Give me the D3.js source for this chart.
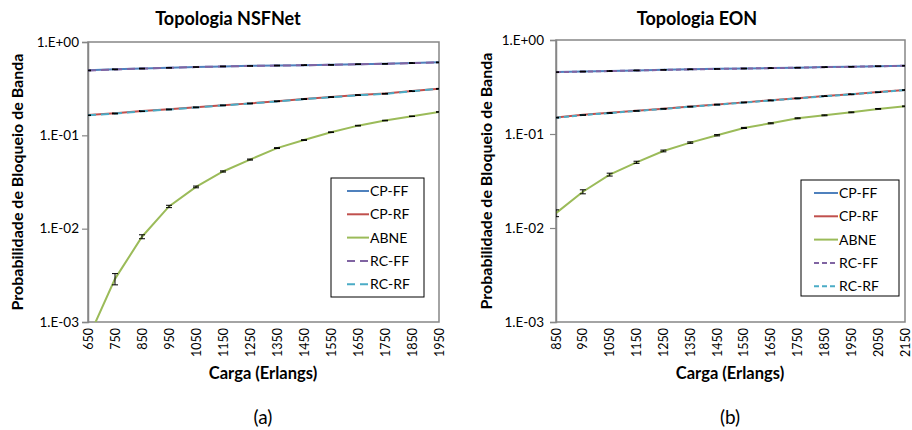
<!DOCTYPE html>
<html>
<head>
<meta charset="utf-8">
<script src="https://cdn.jsdelivr.net/npm/d3@7"></script>
<style>
  body { margin: 0; background: #fff; }
  text { font-family: Lato, "Open Sans", sans-serif; fill: #000; }
</style>
</head>
<body>
<div id="chart"></div>
<script>
// data
const seriesNames = ["CP-FF", "CP-RF", "ABNE", "RC-FF", "RC-RF"]
const seriesColors = ["#4F81BD", "#C0504D", "#9BBB59", "#8064A2", "#4BACC6"]
const yTickValues = [1e-3, 1e-2, 1e-1, 1]
const yTickLabels = ["1.E-03", "1.E-02", "1.E-01", "1.E+00"]

// (a) NSFNet
const loadsA = [650, 750, 850, 950, 1050, 1150, 1250, 1350, 1450, 1550, 1650, 1750, 1850, 1950]
const cpffA = [0.497, 0.51, 0.52, 0.53, 0.54, 0.548, 0.555, 0.56, 0.565, 0.57, 0.578, 0.585, 0.595, 0.605]
const cprfA = [0.165, 0.172, 0.182, 0.19, 0.2, 0.21, 0.22, 0.232, 0.245, 0.257, 0.27, 0.28, 0.298, 0.316]
const abneA = [0.00066, 0.0029, 0.0082, 0.0173, 0.028, 0.041, 0.055, 0.073, 0.089, 0.108, 0.127, 0.144, 0.16, 0.178]
const rcffA = [0.495, 0.508, 0.519, 0.529, 0.539, 0.547, 0.554, 0.559, 0.564, 0.569, 0.577, 0.584, 0.594, 0.603]
const rcrfA = [0.164, 0.171, 0.181, 0.189, 0.199, 0.209, 0.219, 0.231, 0.244, 0.256, 0.269, 0.279, 0.297, 0.315]
const abneErrA = [0.0001, 0.0004, 0.0004, 0.0005, 0.0006, 0.0006, 0.0007, 0.0008, 0.0008, 0.0009, 0.001, 0.001, 0.001, 0.001]

// (b) EON
const loadsB = [850, 950, 1050, 1150, 1250, 1350, 1450, 1550, 1650, 1750, 1850, 1950, 2050, 2150]
const cpffB = [0.457, 0.462, 0.468, 0.475, 0.482, 0.488, 0.493, 0.498, 0.503, 0.508, 0.515, 0.52, 0.527, 0.533]
const cprfB = [0.15, 0.16, 0.168, 0.177, 0.186, 0.196, 0.206, 0.217, 0.228, 0.24, 0.253, 0.265, 0.279, 0.294]
const abneB = [0.0144, 0.0243, 0.037, 0.05, 0.066, 0.081, 0.097, 0.116, 0.13, 0.147, 0.158, 0.17, 0.185, 0.197]
const rcffB = [0.455, 0.461, 0.467, 0.474, 0.481, 0.487, 0.492, 0.497, 0.502, 0.507, 0.514, 0.519, 0.526, 0.532]
const rcrfB = [0.149, 0.159, 0.167, 0.176, 0.185, 0.195, 0.205, 0.216, 0.227, 0.239, 0.252, 0.264, 0.278, 0.293]
const abneErrB = [0.0012, 0.0012, 0.0013, 0.0013, 0.0014, 0.0014, 0.0015, 0.0015, 0.0016, 0.0016, 0.0017, 0.0017, 0.0018, 0.0018]

const svg = d3.select("#chart")
    .append("svg")
    .attr("width", 912)
    .attr("height", 430)

function drawChart(opts) {
    const { id, left, right, top, bottom, loads, series, errs, title, caption, dash, legend } = opts

    const xScale = d3.scalePoint()
        .domain(loads)
        .range([left, right])
    const yScale = d3.scaleLog()
        .domain([1e-3, 1])
        .range([bottom, top])

    const g = svg.append("g")

    // plot frame
    g.append("rect")
        .attr("x", left)
        .attr("y", top)
        .attr("width", right - left)
        .attr("height", bottom - top)
        .attr("fill", "none")
        .attr("stroke", "#868686")
        .attr("stroke-width", 1.5)

    // y axis
    const yAxis = g.append("g")
        .attr("transform", `translate(${left},0)`)
        .call(d3.axisLeft(yScale)
            .tickValues(yTickValues)
            .tickFormat((d, i) => yTickLabels[i])
            .tickSize(6)
            .tickPadding(opts.yPad))
    yAxis.select(".domain").attr("stroke", "#868686").attr("stroke-width", 1.5)
    yAxis.selectAll(".tick line").attr("stroke", "#868686").attr("stroke-width", 1.2)
    yAxis.selectAll(".tick text")
        .style("font-size", "13.5px")
        .style("font-family", "Lato, sans-serif")
        .attr("fill", "#000")

    // x tick labels, rotated
    g.append("g")
        .selectAll("text")
        .data(loads)
        .join("text")
        .attr("transform", d => `translate(${xScale(d) + 4.5},${bottom + 6}) rotate(-90)`)
        .attr("text-anchor", "end")
        .style("font-size", "12.5px")
        .text(d => d)

    // clip
    g.append("clipPath")
        .attr("id", "clip" + id)
        .append("rect")
        .attr("x", left)
        .attr("y", top)
        .attr("width", right - left)
        .attr("height", bottom - top)

    const plot = g.append("g").attr("clip-path", `url(#clip${id})`)

    const line = d3.line()
        .x((d, i) => xScale(loads[i]))
        .y(d => yScale(d))

    series.forEach((values, s) => {
        plot.append("path")
            .datum(values)
            .attr("fill", "none")
            .attr("stroke", seriesColors[s])
            .attr("stroke-width", 2)
            .attr("stroke-dasharray", s >= 3 ? dash : null)
            .attr("d", line)

        // error bars
        const err = errs[s]
        const bars = plot.append("g")
            .selectAll("g")
            .data(values.map((v, i) => ({ v, i, e: err ? err[i] : v * 0.006 })))
            .join("g")
            .attr("stroke", "#000")
            .attr("stroke-width", 1)
        bars.append("line")
            .attr("x1", d => xScale(loads[d.i]))
            .attr("x2", d => xScale(loads[d.i]))
            .attr("y1", d => yScale(d.v + d.e))
            .attr("y2", d => yScale(Math.max(d.v - d.e, 1e-5)))
        bars.append("line")
            .attr("x1", d => xScale(loads[d.i]) - 3)
            .attr("x2", d => xScale(loads[d.i]) + 3)
            .attr("y1", d => yScale(d.v + d.e))
            .attr("y2", d => yScale(d.v + d.e))
        bars.append("line")
            .attr("x1", d => xScale(loads[d.i]) - 3)
            .attr("x2", d => xScale(loads[d.i]) + 3)
            .attr("y1", d => yScale(Math.max(d.v - d.e, 1e-5)))
            .attr("y2", d => yScale(Math.max(d.v - d.e, 1e-5)))
    })

    // legend
    const lg = g.append("g")
    lg.append("rect")
        .attr("x", legend.x)
        .attr("y", legend.y)
        .attr("width", legend.w)
        .attr("height", legend.h)
        .attr("fill", "#fff")
        .attr("stroke", "#000")
        .attr("stroke-width", 1)
    seriesNames.forEach((name, s) => {
        const yy = legend.y + 13 + s * 23.3
        lg.append("line")
            .attr("x1", legend.x + legend.lx1)
            .attr("x2", legend.x + legend.lx2)
            .attr("y1", yy)
            .attr("y2", yy)
            .attr("stroke", seriesColors[s])
            .attr("stroke-width", 2)
            .attr("stroke-dasharray", s >= 3 ? dash : null)
        lg.append("text")
            .attr("x", legend.x + legend.lx2 + 1)
            .attr("y", yy + 5)
            .style("font-size", "14px")
            .text(name)
    })

    // titles
    g.append("text")
        .attr("x", opts.titleX)
        .attr("y", 25)
        .attr("text-anchor", "middle")
        .style("font-size", "18px")
        .style("font-weight", "bold")
        .text(title)

    g.append("text")
        .attr("transform", `translate(${opts.yLabelX},${(top + bottom) / 2}) rotate(-90)`)
        .attr("text-anchor", "middle")
        .style("font-size", "16px")
        .style("font-weight", "bold")
        .text("Probabilidade de Bloqueio de Banda")

    g.append("text")
        .attr("x", opts.xLabelX)
        .attr("y", 379)
        .attr("text-anchor", "middle")
        .style("font-size", "16.5px")
        .style("font-weight", "bold")
        .text("Carga (Erlangs)")

    g.append("text")
        .attr("x", opts.xLabelX)
        .attr("y", 424)
        .attr("text-anchor", "middle")
        .style("font-size", "19px")
        .text(caption)
}

drawChart({
    id: "a", left: 88, right: 439, top: 42, bottom: 322,
    loads: loadsA,
    series: [cpffA, cprfA, abneA, rcffA, rcrfA],
    errs: [null, null, abneErrA, null, null],
    title: "Topologia NSFNet", caption: "(a)", dash: "8,5",
    titleX: 228, yLabelX: 23, xLabelX: 263, yPad: 3,
    legend: { x: 331, y: 178, w: 93, h: 119, lx1: 16, lx2: 38 }
})

drawChart({
    id: "b", left: 556, right: 905, top: 40, bottom: 322,
    loads: loadsB,
    series: [cpffB, cprfB, abneB, rcffB, rcrfB],
    errs: [null, null, abneErrB, null, null],
    title: "Topologia EON", caption: "(b)", dash: "5,3",
    titleX: 697, yLabelX: 492, xLabelX: 730, yPad: 6,
    legend: { x: 801, y: 180, w: 98, h: 116, lx1: 13, lx2: 37 }
})
</script>
</body>
</html>
